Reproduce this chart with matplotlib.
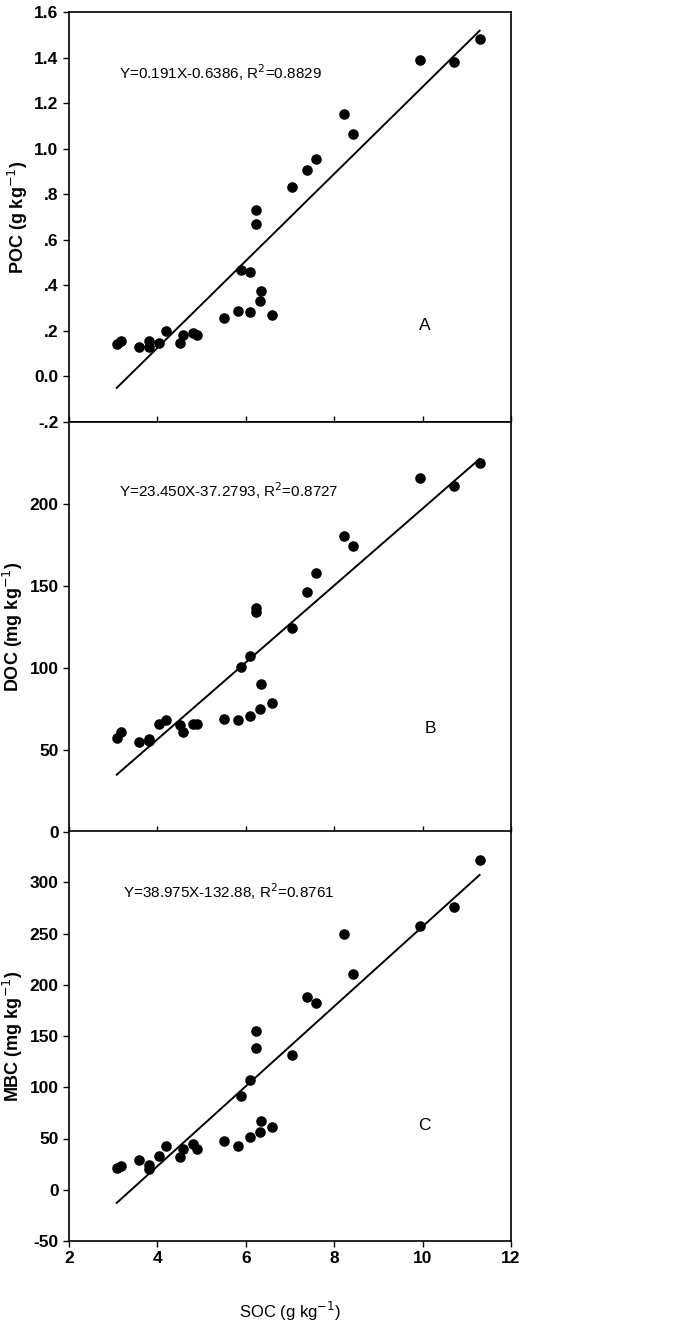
import numpy as np
import matplotlib
matplotlib.use('Agg')
import matplotlib.pyplot as plt

plt.rcParams['font.family'] = ['Liberation Sans', 'DejaVu Sans']

# SOC (g/kg), shared by all three panels
soc = [3.08, 3.18, 3.58, 3.82, 3.82, 4.04, 4.19, 4.50, 4.58, 4.80, 4.89, 5.51,
       5.83, 5.90, 6.09, 6.09, 6.22, 6.23, 6.35, 6.33, 6.59, 7.05, 7.38, 7.59,
       8.22, 8.43, 9.93, 10.71, 11.29]

poc = [0.143, 0.155, 0.129, 0.155, 0.129, 0.148, 0.199, 0.146, 0.180, 0.192,
       0.184, 0.258, 0.287, 0.466, 0.457, 0.285, 0.732, 0.670, 0.375, 0.331,
       0.269, 0.832, 0.908, 0.953, 1.152, 1.066, 1.391, 1.382, 1.483]

doc = [57.2, 60.7, 55.0, 57.0, 55.4, 65.9, 68.2, 65.5, 61.1, 65.7, 65.9, 68.8,
       68.2, 100.7, 107.2, 71.0, 133.9, 136.5, 90.0, 75.2, 78.7, 124.2, 146.4,
       158.1, 180.6, 174.5, 216.0, 211.1, 225.3]

mbc = [21.4, 22.7, 28.8, 24.3, 20.4, 32.7, 42.4, 31.7, 40.2, 44.4, 39.5, 47.9,
       43.1, 91.4, 106.9, 51.5, 155.2, 138.7, 66.7, 56.0, 61.2, 131.9, 187.9,
       182.4, 249.8, 210.9, 257.6, 276.3, 322.0]

# regression coefficients (slope, intercept) as printed
fits = [(0.191, -0.6386), (23.450, -37.2793), (38.975, -132.88)]
eq_texts = ['Y=0.191X-0.6386, R$^2$=0.8829',
            'Y=23.450X-37.2793, R$^2$=0.8727',
            'Y=38.975X-132.88, R$^2$=0.8761']
panel_tags = ['A', 'B', 'C']
ylabels = ['POC (g kg$^{-1}$)', 'DOC (mg kg$^{-1}$)', 'MBC (mg kg$^{-1}$)']

ylims = [(-0.2, 1.6), (0, 250), (-50, 350)]
yticks = [[-0.2, 0.0, 0.2, 0.4, 0.6, 0.8, 1.0, 1.2, 1.4, 1.6],
          [0, 50, 100, 150, 200],
          [-50, 0, 50, 100, 150, 200, 250, 300]]
yticklabels = [['-.2', '0.0', '.2', '.4', '.6', '.8', '1.0', '1.2', '1.4', '1.6'],
               ['0', '50', '100', '150', '200'],
               ['-50', '0', '50', '100', '150', '200', '250', '300']]
eq_pos = [(3.13, 1.332), (3.13, 208), (3.23, 291)]
tag_pos = [(10.05, 0.224), (10.17, 63), (10.05, 62.5)]

xticks = [2, 4, 6, 8, 10, 12]

fig = plt.figure(figsize=(6.75, 13.23), dpi=100)

left, width = 69 / 675, (511 - 69) / 675
h = 410 / 1323
bottoms = [1 - 422 / 1323, 1 - 832 / 1323, 1 - 1241 / 1323]

ys = [poc, doc, mbc]
xs = np.array(soc)
for i in range(3):
    ax = fig.add_axes([left, bottoms[i], width, h])
    ax.scatter(xs, ys[i], s=58, color='black', zorder=3, linewidths=0)
    a, b = fits[i]
    xl = np.array([xs.min(), xs.max()])
    ax.plot(xl, a * xl + b, color='black', lw=1.4)

    ax.set_xlim(2, 12)
    ax.set_ylim(*ylims[i])
    ax.set_yticks(yticks[i])
    ax.set_yticklabels(yticklabels[i], fontsize=12.5, fontweight='bold')
    ax.set_xticks(xticks)
    ax.set_ylabel(ylabels[i], fontsize=13, fontweight='bold', labelpad=3)
    ax.tick_params(axis='y', direction='out', length=4, width=1)
    if i < 2:
        ax.tick_params(axis='x', direction='in', length=4, width=1,
                       labelbottom=False)
    else:
        ax.tick_params(axis='x', direction='out', length=4, width=1)
        ax.set_xticklabels([str(t) for t in xticks], fontsize=12.5,
                           fontweight='bold')
        ax.set_xlabel('SOC (g kg$^{-1}$)', fontsize=12, labelpad=24)
    for sp in ax.spines.values():
        sp.set_linewidth(1.2)

    ax.text(eq_pos[i][0], eq_pos[i][1], eq_texts[i], fontsize=11,
            va='center', ha='left')
    ax.text(tag_pos[i][0], tag_pos[i][1], panel_tags[i], fontsize=12.5,
            va='center', ha='center')

fig.savefig('out.png', dpi=100)
